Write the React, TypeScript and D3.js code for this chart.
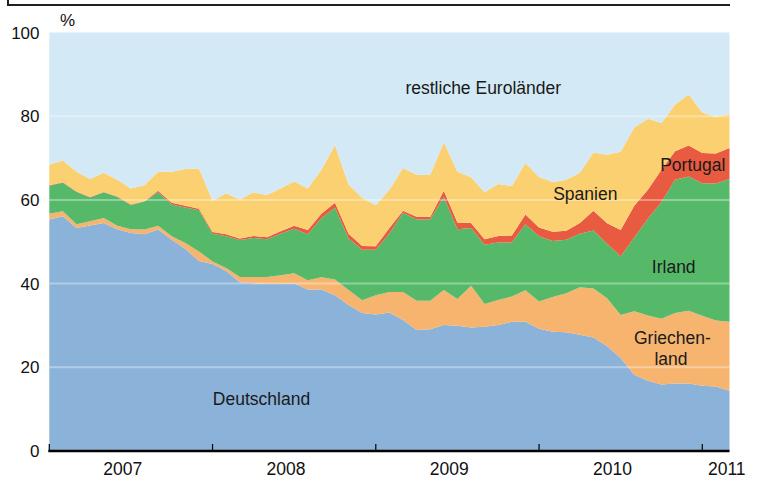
import React from 'react';
import * as d3 from 'd3';

// monthly shares in %, first point = start of 2007
const deutschland = [
  55.3, 56.1, 53.3, 53.9, 54.5, 53.0, 52.1, 51.8, 52.9, 50.5, 48.3, 45.4,
  44.7, 43.0, 40.3, 40.1, 39.9, 39.9, 40.1, 38.6, 38.6, 37.2, 34.9, 33.0,
  32.6, 33.1, 31.3, 28.9, 29.1, 30.1, 29.9, 29.5, 29.7, 30.1, 30.9, 30.9,
  29.2, 28.5, 28.4, 27.8, 27.1, 25.1, 22.2, 18.2, 16.8, 15.9, 16.1, 16.1,
  15.6, 15.4, 14.4,
];
const griechenland = [
  1.4, 1.2, 0.9, 1.0, 1.2, 0.8, 0.9, 1.1, 0.9, 0.8, 1.4, 2.3,
  0.6, 0.7, 1.3, 1.5, 1.7, 2.1, 2.4, 2.2, 2.9, 3.8, 3.6, 3.0,
  4.6, 4.9, 6.7, 7.0, 6.8, 8.4, 6.4, 10.0, 5.4, 6.0, 6.0, 7.5,
  6.5, 8.3, 9.3, 11.3, 11.7, 11.4, 10.3, 15.2, 15.6, 15.7, 16.9, 17.4,
  16.7, 15.8, 16.5,
];
const irland = [
  6.7, 6.8, 7.7, 5.7, 6.1, 6.9, 5.8, 6.7, 8.0, 7.6, 8.5, 9.8,
  6.6, 7.6, 8.8, 9.3, 9.0, 9.9, 10.6, 11.0, 14.1, 17.1, 12.3, 12.1,
  10.9, 14.0, 18.9, 19.4, 19.5, 22.2, 16.7, 13.8, 14.2, 13.7, 12.9, 15.8,
  15.6, 13.4, 12.8, 12.8, 13.9, 13.0, 14.0, 17.6, 23.1, 27.9, 31.8, 32.1,
  31.7, 32.7, 34.1,
];
const portugal = [
  0.1, 0.1, 0.1, 0.1, 0.1, 0.1, 0.1, 0.1, 0.4, 0.4, 0.4, 0.4,
  0.4, 0.5, 0.4, 0.5, 0.5, 0.6, 0.7, 1.0, 1.1, 1.2, 1.1, 0.9,
  0.8, 1.3, 0.5, 0.7, 0.5, 1.5, 1.6, 1.2, 1.3, 1.6, 1.7, 2.3,
  2.1, 2.2, 2.1, 2.6, 4.7, 4.9, 6.3, 7.6, 6.9, 7.7, 6.8, 7.4,
  7.2, 7.2, 7.4,
];
const spanien = [
  4.9, 5.2, 4.7, 4.3, 4.6, 4.0, 3.8, 3.8, 4.5, 7.4, 8.8, 9.6,
  7.5, 9.8, 9.3, 10.4, 10.1, 10.2, 10.6, 9.9, 10.5, 13.8, 11.8, 11.5,
  9.8, 9.1, 10.2, 10.0, 10.1, 11.6, 12.1, 10.9, 11.2, 12.4, 11.8, 12.3,
  12.1, 11.9, 12.2, 12.0, 13.9, 16.4, 18.7, 18.7, 17.0, 11.2, 11.2, 12.2,
  9.7, 8.7, 8.1,
];

const years = ['2007', '2008', '2009', '2010', '2011'];
const yearTickIdx = [0, 12, 24, 36, 48];
const yearLabelIdx = [5.4, 17.4, 29.4, 41.4, 49.8];
const yTicks = [0, 20, 40, 60, 80, 100];
const gridValues = [20, 40, 60, 80];

const keys = ['de', 'gr', 'ir', 'pt', 'es', 'rest'];
const colors: Record<string, string> = {
  de: '#8bb2d9',
  gr: '#f6b46e',
  ir: '#56b96a',
  pt: '#e95b40',
  es: '#fbd070',
  rest: '#d3e9f5',
};

// labels: [text, month index, value at baseline]
const labels: [string, number, number][] = [
  ['restliche Euroländer', 31.9, 85.3],
  ['Spanien', 39.4, 60.0],
  ['Portugal', 47.3, 67.0],
  ['Irland', 45.9, 42.5],
  ['Griechen-', 45.8, 25.5],
  ['land', 45.7, 20.6],
  ['Deutschland', 15.6, 11.0],
];

const W = 757;
const H = 479;
const font = '"Liberation Sans", Arial, Helvetica, sans-serif';

export default function App() {
  const rows = deutschland.map((d, i) => {
    const sum = d + griechenland[i] + irland[i] + portugal[i] + spanien[i];
    return {
      de: d,
      gr: griechenland[i],
      ir: irland[i],
      pt: portugal[i],
      es: spanien[i],
      rest: 100 - sum,
    };
  });

  const x = d3.scaleLinear().domain([0, deutschland.length - 1]).range([49.3, 729.5]);
  const y = d3.scaleLinear().domain([0, 100]).range([451, 32.5]);

  const series = d3.stack<any>().keys(keys)(rows);
  const area = d3
    .area<any>()
    .x((_, i) => x(i))
    .y0((d) => y(d[0]))
    .y1((d) => y(d[1]));

  return (
    <svg
      width={W}
      height={H}
      style={{ position: 'absolute', left: 0, top: 0, background: '#fff' }}
      fontFamily={font}
    >
      <path d="M8,0V5H730" fill="none" stroke="#231f20" strokeWidth={2} />

      {series.map((s) => (
        <path key={s.key} d={area(s) || ''} fill={colors[s.key]} />
      ))}

      {gridValues.map((v) => (
        <line
          key={v}
          x1={x(0)}
          x2={x(deutschland.length - 1)}
          y1={y(v)}
          y2={y(v)}
          stroke="#fff"
          strokeOpacity={0.35}
          strokeWidth={2}
        />
      ))}

      {labels.map(([t, i, v]) => (
        <text key={t} x={x(i)} y={y(v)} textAnchor="middle" fontSize={17.5} fill="#1a1a1a">
          {t}
        </text>
      ))}

      {/* y axis labels */}
      {yTicks.map((v) => (
        <text key={v} x={39.5} y={y(v)} dy="0.36em" textAnchor="end" fontSize={17} fill="#111">
          {v}
        </text>
      ))}
      <text x={67.5} y={26} textAnchor="middle" fontSize={17} fill="#111">
        %
      </text>

      {/* x axis */}
      {yearTickIdx.map((i) => (
        <line key={i} x1={x(i)} x2={x(i)} y1={y(0) - 7} y2={y(0)} stroke="#000" strokeWidth={1.2} />
      ))}
      <line x1={x(0) - 1} x2={x(deutschland.length - 1)} y1={y(0)} y2={y(0)} stroke="#000" strokeWidth={2.5} />
      {years.map((yr, k) => (
        <text key={yr} x={x(yearLabelIdx[k])} y={475} textAnchor="middle" fontSize={17.5} fill="#111">
          {yr}
        </text>
      ))}
    </svg>
  );
}
